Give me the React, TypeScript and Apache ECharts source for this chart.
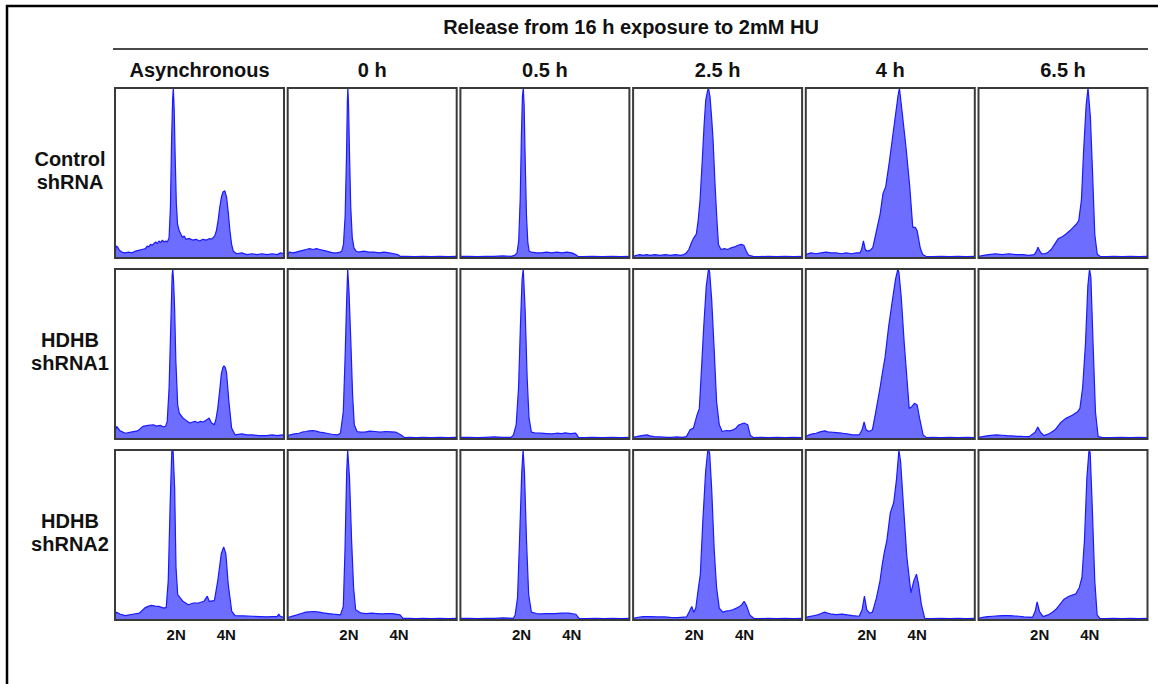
import React, { useEffect, useRef } from 'react';
import * as echarts from 'echarts';

// ---------- text ----------
const TITLE = 'Release from 16 h exposure to 2mM HU';
const COLUMN_LABELS = ['Asynchronous', '0 h', '0.5 h', '2.5 h', '4 h', '6.5 h'];
const ROW_LABELS = ['Control\nshRNA', 'HDHB\nshRNA1', 'HDHB\nshRNA2'];
const PLOIDY_TICKS = [36.2, 65.9];
const PLOIDY_LABELS = ['2N', '4N'];

// ---------- histograms: [DNA content (0-100 of panel), relative count (% of max)] ----------
// Control shRNA
const ctrlAsync = [[0,3],[0.8,7],[1.6,6.5],[2.6,4.5],[4,3.5],[6,3],[8,3.5],[10,3],[12,4],[14,4.5],[16,5],[18,5.5],[19,7],[20,6.5],[21,8],[22,7.5],[23,8.5],[24,9.5],[25,8.5],[26,10],[27,9],[28,10.5],[29,9.5],[30,10],[31,9.5],[32,12],[32.8,30],[33.5,70],[34.1,93],[34.5,100],[35,88],[35.6,60],[36.3,32],[37,20],[38,16],[39,14],[40,12],[41,13],[42,11],[44,11.5],[46,10.5],[48,11],[50,10],[52,11],[54,10.5],[56,11.5],[57,11],[58,12],[59,13],[60,16],[61,22],[62,30],[63,36],[64,39],[65,39.5],[66,36],[67,27],[68,16],[69,8],[70,4],[72,2.5],[75,3],[78,2],[81,2.5],[84,2],[87,2.5],[90,2],[93,2.5],[96,2],[98,3],[100,2.5]];
const ctrl0h = [[0,2],[1,3.5],[3,3],[5,3.5],[7,4],[9,4.5],[11,5],[13,5.5],[15,5],[17,5.5],[19,5],[21,4.5],[23,4],[25,3.5],[27,3],[29,3],[31,3.5],[32,4],[33,8],[34,25],[34.8,60],[35.3,92],[35.6,100],[36,90],[36.6,60],[37.3,30],[38.2,12],[39.2,6],[40.5,4],[42,3.5],[45,4],[48,3.5],[51,3.5],[54,3],[57,3.5],[60,3],[63,2.5],[65,2],[66.5,1],[70,1],[75,0.8],[80,1],[85,0.8],[90,1],[95,0.8],[100,1]];
const ctrl05h = [[0,1],[5,1],[10,0.8],[15,1],[20,1],[25,1.2],[30,1],[32,1.5],[33.5,3],[34.5,10],[35.4,35],[36.1,72],[36.7,95],[37.2,100],[37.7,90],[38.4,55],[39.1,25],[39.9,9],[40.7,4],[42,3.5],[45,3],[48,3],[51,3.5],[54,3],[57,3.5],[60,3],[63,3.5],[66,3],[68,2],[69.5,1],[72,0.8],[78,1],[84,0.8],[90,1],[95,0.8],[100,1]];
const ctrl25h = [[0,1],[2,1.5],[4,2],[6,1.5],[8,2],[10,1.5],[13,2],[16,1.5],[19,2],[22,1.5],[25,2],[28,1.5],[30,2],[31.5,3],[33,5],[34.5,9],[36,12],[37.4,14],[38.5,22],[39.6,34],[40.8,55],[42,78],[43,93],[44,98],[44.6,100],[45.5,95],[46.5,82],[47.3,70],[48.4,45],[49.5,24],[50.5,8],[52,5],[54,5.5],[56,5],[58,6],[60,6.5],[62,7.5],[64,8],[65.5,7.5],[67,4],[68.5,1.5],[71,1],[75,0.8],[80,1],[85,0.8],[90,1],[95,0.8],[100,1]];
const ctrl4h = [[0,2],[3,3],[6,2.5],[9,3],[12,3.5],[15,3],[18,3],[21,2.5],[24,3],[27,2.5],[30,3],[32,3],[33,5],[34.1,10],[35.2,5],[36.3,4],[38,4.5],[39.6,6],[41.8,16],[44,26],[45.7,38],[47.3,42],[49.5,57],[51.6,73],[53.2,85],[54.5,95],[55.4,100],[57.1,85],[59.3,65],[61.5,42],[63.3,18],[64.8,18],[65.9,16],[67.7,6],[69.2,2],[71,1],[75,0.8],[80,1],[85,0.8],[90,1],[95,0.8],[100,1]];
const ctrl65h = [[0,1],[3,1.5],[6,2],[10,2.5],[14,2],[18,2.5],[22,2],[26,2],[30,1.5],[33,2],[34.3,4],[35.2,6.3],[36.3,4],[37.4,2.4],[39,2.5],[40.7,3],[43,5],[45,8],[47.3,11.5],[49.5,12.5],[51.6,14],[54,16],[56,18],[58,20],[59.3,22],[60.9,34],[62.2,63],[63.7,90],[64.8,100],[66.2,83],[67.5,50],[68.8,14],[70.3,2],[72,1],[76,0.8],[80,1],[85,0.8],[90,1],[95,0.8],[100,1]];

// HDHB shRNA1
const sh1Async = [[0,4],[1,7.4],[3,4.8],[6.2,3.4],[9.3,4],[13.4,4.8],[16.5,7.4],[19.6,8],[22.7,8.4],[24.5,7.6],[26.8,8],[28.5,7.2],[29.9,7.4],[30.9,10.4],[32,30],[33,66],[33.8,96],[34.2,100],[34.7,92],[35.3,76],[36,46],[37.1,20],[38.1,15],[40.2,12.4],[42.3,10.8],[44.3,9.4],[46,10],[47.4,10.4],[49,9.6],[50.5,10.4],[52,10],[53.6,10.8],[55.7,12.4],[57,9.5],[58.8,8.4],[59.8,12],[60.8,18],[61.8,27],[62.9,38],[63.8,42],[64.5,43],[65.3,42],[66,39],[67.4,22],[69,6.4],[71.1,2.4],[75,3],[78,2.4],[81.4,2.4],[85,2],[89.7,2],[93,2.4],[96,2],[99,2.4],[100,2]];
const sh1_0h = [[0,2],[1.4,2.4],[4,3],[6.6,3.4],[8.5,4],[10.7,4.4],[12.8,4.8],[14.8,5],[16.8,4.6],[18.9,4],[21,3.8],[23,3.4],[26,2.8],[29.2,2.4],[31.2,3.4],[32.9,16],[33.9,46],[34.9,82],[35.5,100],[36.3,86],[37.4,56],[38.4,26],[39.4,8.4],[41,4.4],[43,4],[45.6,4],[48.5,4.6],[51.7,4.4],[54.8,4],[57.9,4.4],[61,4.2],[64,4],[65.5,3.2],[67.1,2.4],[69.2,0.8],[72,1],[76,0.8],[80,1],[85,0.8],[90,1],[95,0.8],[100,1]];
const sh1_05h = [[0,1],[5,1],[10,0.8],[15,1],[20,1.2],[25,1],[30,1],[31.4,2.4],[33,8.4],[34.4,30],[35.5,66],[36.5,94],[37.2,100],[38.3,76],[39.5,36],[40.6,12.4],[42,4],[44,3.6],[47.7,3.4],[51,3.2],[53.9,3],[57,3.4],[60,3.2],[62,3.6],[65,3.2],[68.2,3.4],[69.9,1],[73,0.8],[78,1],[84,0.8],[90,1],[95,0.8],[100,1]];
const sh1_25h = [[0,1],[2,1.4],[5,2],[8.2,2.4],[10,1.8],[12.2,1.4],[16,1.2],[20,1],[22.4,1],[26,1.2],[29,1],[31.6,1.4],[33.7,5.4],[35.7,6.4],[37.8,14],[39.2,18],[40.4,40],[41.8,66],[43.3,90],[44.5,99],[44.9,100],[45.3,98],[46.5,82],[48,52],[49.4,22],[51,8.4],[52.7,4.4],[55.1,5],[57,4.8],[59.2,5.4],[61,6.5],[62.2,8],[64,8.8],[65.7,9.4],[67.8,8.4],[69.4,2],[71.4,0.8],[75,1],[80,0.8],[85,1],[90,0.8],[95,1],[100,0.8]];
const sh1_4h = [[0,1.5],[2,2.4],[4,3],[6.1,3.4],[8.5,4.2],[11.2,4.8],[13,4.2],[15.3,4],[18,3.8],[21.4,3.4],[24.5,3],[27.6,2.4],[31.6,2.4],[33.3,5.4],[34.5,10],[35.7,5.4],[37.3,4.4],[39.4,5.4],[41.4,16],[43.9,30],[45.5,40],[46.9,48],[49,66],[51,80],[53.1,94],[54.5,100],[55.1,98],[56.5,83],[58.2,57],[59.8,36],[61.2,18],[62.7,19],[64.3,21],[65.9,20],[67.3,12.4],[69.4,2.4],[71.4,0.8],[75,1],[80,0.8],[85,1],[90,0.8],[95,1],[100,0.8]];
const sh1_65h = [[0,1],[2.4,1.4],[6,2],[10.6,2.4],[14,2.2],[16.7,2],[20,1.8],[22.9,1.6],[26,1.5],[30,1.4],[33.5,4],[35.1,7],[36.7,4],[38.8,2],[42.2,3.4],[45.3,5.4],[48.4,9.4],[51.4,12],[55.5,14],[58.6,16],[60,18],[61.6,30],[63.3,56],[64.7,90],[65.7,100],[66.5,95],[67.8,56],[69.2,16],[70.8,1.4],[73,1],[78,0.8],[84,1],[90,0.8],[95,1],[100,0.8]];

// HDHB shRNA2
const sh2Async = [[0,3],[1,4.6],[3.1,3.4],[6.2,2.6],[10.3,3.4],[14.4,4],[17.5,7],[19.5,8],[21.6,8.6],[23.7,8.2],[25.8,8],[28.9,7],[30.3,7.4],[31.5,23],[32.6,67],[33.6,99],[34,100],[34.4,99],[35.3,77],[36.1,31],[37.1,15],[38.6,13],[40.2,11],[43.3,9],[46.4,10],[49.5,10],[52.6,11],[54.6,14],[55.7,11],[58.8,11.4],[60.8,23],[62.9,39],[64.3,43],[65.6,39],[67,21],[69.1,5],[71.1,2.6],[76,2.4],[81.4,2.2],[86,2],[89.7,1.8],[93,2],[95.9,2],[96.9,3.4],[97.9,2],[100,1.8]];
const sh2_0h = [[0,1.5],[1.4,1.8],[5.5,3],[8,3.8],[10.7,4.6],[13,4.8],[15.8,5],[18.5,4.6],[20.9,4.2],[24,3.8],[27.1,3.4],[31.2,3],[32.9,8],[33.9,41],[34.9,87],[35.5,100],[36.6,83],[37.8,47],[39,19],[40.2,6],[43.5,4],[46.5,3.8],[49.7,4],[52.8,3.8],[55.9,3.6],[59,3.8],[62,3.8],[66.5,3],[68.2,1],[72,1],[76,0.8],[80,1],[85,0.8],[90,1],[95,0.8],[100,1]];
const sh2_05h = [[0,1],[5,1],[10,0.8],[15,1],[20,1],[25,1.2],[31.4,1],[32.4,3],[33.8,13],[35,47],[36.3,87],[37.1,100],[37.9,87],[39.1,47],[40.4,15],[42,4.6],[45,3.8],[47.7,3.6],[51,3.8],[55.9,3.8],[60,4],[64.1,4],[68.2,3.4],[70.3,1],[74,0.8],[80,1],[85,0.8],[90,1],[95,0.8],[100,1]];
const sh2_25h = [[0,1],[3,1.6],[6,2],[10.2,2],[14,1.8],[18.4,1.8],[22,1.6],[26.5,1.4],[31.6,1.8],[33.3,5],[34.7,8],[35.9,4.6],[37.1,7],[38.4,17],[39.8,27],[41.2,57],[42.9,87],[44.1,99],[44.7,100],[45.3,98],[46.5,77],[48,41],[49.4,19],[51,7],[53.1,4.6],[55,5.2],[57.1,5.6],[59,6],[61.2,7],[63,8],[64.3,9],[65.7,11],[67.3,8],[69,3],[71.4,1],[75,0.8],[80,1],[85,0.8],[90,1],[95,0.8],[100,1]];
const sh2_4h = [[0,1.5],[2,2],[4.5,2.5],[7.1,3],[9,3.8],[10.8,4.6],[13,4],[15.3,3.4],[18,3.2],[21.4,3.4],[24.5,3],[27.6,2.6],[31.6,2.2],[33.3,6],[34.7,14],[36.1,6],[37.8,4],[39.4,4.6],[40.4,8],[41.8,13],[43.9,23],[45.3,33],[46.5,40],[48,47],[50,63],[52,69],[53.7,83],[55.1,100],[56.1,93],[57.8,67],[59.8,37],[62.2,16],[63.9,23],[65.5,27],[66.7,21],[68.4,9],[70.4,1],[74,0.8],[80,1],[85,0.8],[90,1],[95,0.8],[100,1]];
const sh2_65h = [[0,1],[2.4,1.6],[5.5,2],[8.6,2.2],[11.5,2.4],[14.7,2.6],[17.8,2.6],[20.8,2.4],[24,2.2],[26.9,1.8],[32,1.6],[33.5,5],[34.7,10.6],[36.1,5],[38.2,2],[41.2,3],[43.7,4.6],[45.5,6],[47.3,8],[50.4,12],[53.5,14],[57.6,15.4],[59.6,19],[61.2,25],[62.7,47],[64.1,83],[65.3,99],[65.7,100],[66.1,98],[67.3,67],[68.8,23],[70.2,3],[71.8,1],[75,0.8],[80,1],[85,0.8],[90,1],[95,0.8],[100,1]];

const PANELS = [
  [ctrlAsync, ctrl0h, ctrl05h, ctrl25h, ctrl4h, ctrl65h],
  [sh1Async, sh1_0h, sh1_05h, sh1_25h, sh1_4h, sh1_65h],
  [sh2Async, sh2_0h, sh2_05h, sh2_25h, sh2_4h, sh2_65h],
];

// ---------- layout ----------
const W = 1158;
const H = 684;
const GRID_LEFT0 = 115;
const COL_STEP = 172.7;
const GRID_W = 169;
const ROW_TOPS = [88, 269, 450];
const GRID_H = 170;
const FONT = '"Liberation Sans", Arial, Helvetica, sans-serif';
const TEXT_COLOR = '#111';

export default function App() {
  const ref = useRef<HTMLDivElement>(null);

  useEffect(() => {
    document.body.style.margin = '0';
    const chart = echarts.init(ref.current!, null, { renderer: 'svg' });

    const grids: any[] = [];
    const xAxes: any[] = [];
    const yAxes: any[] = [];
    const series: any[] = [];

    PANELS.forEach((row, r) => {
      row.forEach((data, c) => {
        const i = grids.length;
        const bottomRow = r === PANELS.length - 1;
        grids.push({
          left: GRID_LEFT0 + c * COL_STEP,
          top: ROW_TOPS[r],
          width: GRID_W,
          height: GRID_H,
          show: true,
          borderColor: '#3a3a3a',
          borderWidth: 2,
          backgroundColor: 'transparent',
          z: 3,
        });
        xAxes.push({
          gridIndex: i,
          type: 'value',
          min: 0,
          max: 100,
          show: bottomRow,
          axisLine: { show: false },
          axisTick: { show: false },
          splitLine: { show: false },
          axisLabel: {
            show: bottomRow,
            customValues: PLOIDY_TICKS,
            formatter: (v: number) => {
              const k = PLOIDY_TICKS.findIndex((t) => Math.abs(t - v) < 1e-6);
              return k >= 0 ? PLOIDY_LABELS[k] : '';
            },
            fontFamily: FONT,
            fontWeight: 'bold',
            fontSize: 15,
            color: TEXT_COLOR,
            margin: 7,
          },
        });
        yAxes.push({
          gridIndex: i,
          type: 'value',
          min: 0,
          max: 100,
          show: false,
          splitLine: { show: false },
        });
        series.push({
          type: 'line',
          xAxisIndex: i,
          yAxisIndex: i,
          data,
          symbol: 'none',
          showSymbol: false,
          silent: true,
          clip: true,
          z: 2,
          lineStyle: { color: '#1a1aff', width: 1.2 },
          areaStyle: { color: '#6d6dff', opacity: 1 },
        });
      });
    });

    const graphics: any[] = [
      { type: 'line', shape: { x1: 6, y1: 6, x2: W, y2: 6 }, style: { stroke: '#000', lineWidth: 2.5 } },
      { type: 'line', shape: { x1: 7, y1: 5, x2: 7, y2: H }, style: { stroke: '#000', lineWidth: 2.5 } },
      { type: 'line', shape: { x1: 113, y1: 49, x2: 1148, y2: 49 }, style: { stroke: '#4a4a4a', lineWidth: 2 } },
      {
        type: 'text',
        x: 631,
        y: 27,
        style: {
          text: TITLE,
          font: `bold 20px ${FONT}`,
          fill: TEXT_COLOR,
          textAlign: 'center',
          textVerticalAlign: 'middle',
        },
      },
    ];
    COLUMN_LABELS.forEach((label, c) => {
      graphics.push({
        type: 'text',
        x: GRID_LEFT0 + c * COL_STEP + GRID_W / 2,
        y: 70,
        style: {
          text: label,
          font: `bold 20px ${FONT}`,
          fill: TEXT_COLOR,
          textAlign: 'center',
          textVerticalAlign: 'middle',
        },
      });
    });
    ROW_LABELS.forEach((label, r) => {
      graphics.push({
        type: 'text',
        x: 70,
        y: ROW_TOPS[r] + GRID_H / 2 - 3,
        style: {
          text: label,
          font: `bold 20px ${FONT}`,
          lineHeight: 23,
          fill: TEXT_COLOR,
          textAlign: 'center',
          textVerticalAlign: 'middle',
        },
      });
    });

    chart.setOption({
      animation: false,
      backgroundColor: '#fff',
      grid: grids,
      xAxis: xAxes,
      yAxis: yAxes,
      series,
      graphic: { elements: graphics },
    });

    return () => chart.dispose();
  }, []);

  return <div ref={ref} style={{ width: W, height: H }} />;
}
